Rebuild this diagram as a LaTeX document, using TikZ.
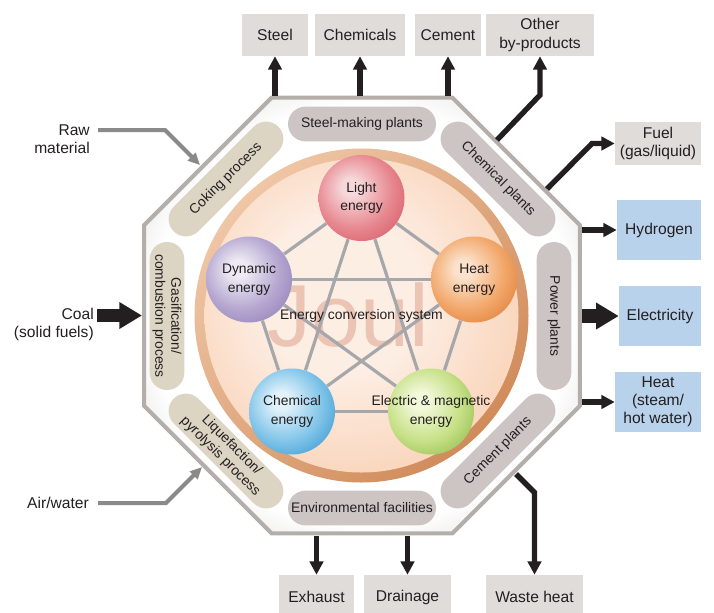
\documentclass[tikz,border=0pt]{standalone}
\usepackage{fontspec}
\setmainfont{Liberation Sans}
\usetikzlibrary{arrows.meta,shapes.geometric}

\definecolor{ink}{HTML}{231F20}
\definecolor{boxgray}{HTML}{E0DCD9}
\definecolor{boxblue}{HTML}{B9D2EC}
\definecolor{pillmauve}{HTML}{CDC5C3}
\definecolor{pillbeige}{HTML}{DCD5C4}
\definecolor{octline}{HTML}{B4AEAB}
\definecolor{octfill}{HTML}{E0DDDB}
\definecolor{linkgray}{HTML}{A5A7AA}
\definecolor{feedgray}{HTML}{8A8A8A}
\definecolor{joul}{HTML}{EBC4B4}
\definecolor{ringlight}{HTML}{EFC6A6}
\definecolor{ringdark}{HTML}{D08B5A}
\definecolor{corepale}{HTML}{FDEEE4}
\definecolor{coreedge}{HTML}{F7C6A2}
\definecolor{lightpale}{HTML}{F6D8DA}\definecolor{lightmain}{HTML}{E78890}\definecolor{lightedge}{HTML}{CD4656}
\definecolor{heatpale}{HTML}{FBE2CC}\definecolor{heatmain}{HTML}{F2A76A}\definecolor{heatedge}{HTML}{D46A22}
\definecolor{dynpale}{HTML}{EEEAF4}\definecolor{dynmain}{HTML}{B4A6D0}\definecolor{dynedge}{HTML}{826EAB}
\definecolor{chempale}{HTML}{E2F2FA}\definecolor{chemmain}{HTML}{80C4E9}\definecolor{chemedge}{HTML}{1A84C4}
\definecolor{emagpale}{HTML}{F2F8DA}\definecolor{emagmain}{HTML}{C6E086}\definecolor{emagedge}{HTML}{79AA32}

\newcommand\spherecol[4]{\pgfdeclareradialshading{#1}{\pgfpoint{-7bp}{7bp}}{color(0bp)=(#2); color(5bp)=(#2); color(22bp)=(#3); color(42bp)=(#4); color(60bp)=(#4)}}
\spherecol{lightsh}{lightpale}{lightmain}{lightedge}
\spherecol{heatsh}{heatpale}{heatmain}{heatedge}
\spherecol{dynsh}{dynpale}{dynmain}{dynedge}
\spherecol{chemsh}{chempale}{chemmain}{chemedge}
\spherecol{emagsh}{emagpale}{emagmain}{emagedge}
\pgfdeclareradialshading{coresh}{\pgfpoint{-4bp}{4bp}}{color(0bp)=(corepale); color(12bp)=(corepale); color(39bp)=(coreedge); color(60bp)=(coreedge)}
\pgfdeclareradialshading{octsh}{\pgfpointorigin}{color(0bp)=(white); color(24bp)=(white); color(32bp)=(octfill); color(60bp)=(octfill)}

\pgfdeclarelayer{bg}
\pgfdeclarelayer{links}
\pgfsetlayers{bg,links,main}

\begin{document}
\begin{tikzpicture}[x=0.75pt, y=-0.75pt, text=ink,
    outbox/.style={fill=boxgray, minimum height=31.5pt, inner sep=1pt, align=center,
      font=\fontsize{11.7}{13.6}\selectfont},
    bluebox/.style={outbox, fill=boxblue, minimum height=45pt},
    outlabel/.style={anchor=east, inner sep=0pt, align=right, font=\fontsize{11.7}{13.6}\selectfont},
    pill/.style={rounded corners=13pt, minimum width=111pt, minimum height=26pt, inner sep=1pt,
      align=center, font=\fontsize{10.4}{12}\selectfont},
    sphere/.style={circle, minimum size=64.5pt, inner sep=0pt, shading=#1, shade},
    elabel/.style={align=center, font=\fontsize{10.4}{14}\selectfont},
    link/.style={draw=linkgray, line width=2.4pt},
    blk/.style={draw=ink, line width=4pt, -{Triangle[length=10pt,width=10pt]}},
    fat/.style={draw=ink, line width=10pt, -{Triangle[length=17pt,width=19pt]}},
    feed/.style={draw=feedgray, line width=3pt, -{Triangle[length=9pt,width=8pt]}}
    ]
  \useasboundingbox (0,0) rectangle (714,612);

  \begin{pgfonlayer}{bg}
    \node[regular polygon, regular polygon sides=8, minimum size=353.9pt, inner sep=0pt,
      draw=octline, line width=3pt, shading=octsh, shade] (oct) at (362,315.5) {};
    \node[circle, minimum size=250.5pt, inner sep=0pt, top color=ringlight, bottom color=ringdark,
      shading angle=45] (ring) at (361.5,315.5) {};
    \node[circle, minimum size=235.5pt, inner sep=0pt, shading=coresh, shade] (core) at (361.5,315.5) {};
    \node[anchor=base, text=joul, font=\fontsize{66}{66}\selectfont] (joultxt) at (348,346) {Joul};
  \end{pgfonlayer}

  \node[pill, fill=pillmauve] (steelplant) at (362,124) {Steel-making plants};
  \node[pill, fill=pillmauve, rotate=-45] (chemplant) at (498,179) {Chemical plants};
  \node[pill, fill=pillmauve, rotate=-90] (powerplant) at (554,316) {Power plants};
  \node[pill, fill=pillmauve, rotate=45] (cementplant) at (498,451) {Cement plants};
  \node[pill, fill=pillmauve] (envfac) at (362,508) {Environmental facilities};
  \node[pill, fill=pillbeige, rotate=-45] (liquef) at (226,451) {Liquefaction/\\pyrolysis process};
  \node[pill, fill=pillbeige, rotate=-90] (gasif) at (167,316) {Gasification/\\combustion process};
  \node[pill, fill=pillbeige, rotate=45] (coking) at (226,179) {Coking process};

  \node[sphere=lightsh, label={[elabel]center:Light\\energy}] (light) at (361.5,198) {};
  \node[sphere=heatsh, label={[elabel]center:Heat\\energy}] (heat) at (474,279.5) {};
  \node[sphere=dynsh, label={[elabel]center:Dynamic\\energy}] (dyn) at (249,279.5) {};
  \node[sphere=chemsh, label={[elabel]center:Chemical\\energy}] (chem) at (292,411.5) {};
  \node[sphere=emagsh, label={[elabel]center:Electric \& magnetic\\energy}] (emag) at (431,411.5) {};
  \node[elabel] (ecs) at (361.5,316) {Energy conversion system};

  \begin{pgfonlayer}{links}
    \foreach \a/\b in {light/heat, heat/emag, emag/chem, chem/dyn, dyn/light,
                       light/emag, light/chem, heat/chem, heat/dyn, dyn/emag}
      \draw[link] (\a) -- (\b);
  \end{pgfonlayer}

  \node[outbox, minimum width=49.5pt] (steel) at (275,35) {Steel};
  \node[outbox, minimum width=67.5pt] (chemicals) at (360,35) {Chemicals};
  \node[outbox, minimum width=49.5pt] (cement) at (448,35) {Cement};
  \node[outbox, minimum width=81pt] (other) at (540,35) {Other\\by-products};
  \node[outbox, minimum width=64.5pt, minimum height=32pt] (fuel) at (658,143.5) {Fuel\\(gas/liquid)};
  \node[bluebox, minimum width=63pt] (hydrogen) at (659,230) {Hydrogen};
  \node[bluebox, minimum width=61.5pt] (electricity) at (660,316) {Electricity};
  \node[bluebox, minimum width=64.5pt] (heatout) at (658,402) {Heat\\(steam/\\hot water)};
  \node[outbox, minimum width=56pt, minimum height=33pt] (exhaust) at (316.5,597) {Exhaust};
  \node[outbox, minimum width=65pt, minimum height=33pt] (drainage) at (407.5,597) {Drainage};
  \node[outbox, minimum width=73pt, minimum height=33pt] (wasteheat) at (534.5,597) {Waste heat};

  \node[outlabel] (raw) at (90,139.5) {Raw\\material};
  \node[outlabel] (coal) at (94,324.5) {Coal\\(solid fuels)};
  \node[outlabel] (air) at (89,503) {Air/water};

  \draw[blk] (steel.south |- oct.north) -- (steel);
  \draw[blk] (chemicals.south |- oct.north) -- (chemicals);
  \draw[blk] (cement.south |- oct.north) -- (cement);
  \coordinate (othstart) at (497,140);
  \coordinate (othbend) at (540,95);
  \draw[blk] (othstart) -- (othbend) -- (other);
  \coordinate (fuelstart) at (547,189);
  \coordinate (fuelbend) at (592,143.5);
  \draw[blk] (fuelstart) -- (fuelbend) -- (fuel);
  \draw[blk] (oct.east |- hydrogen) -- (hydrogen);
  \draw[fat] (oct.east |- electricity) -- (electricity);
  \draw[blk] (oct.east |- heatout) -- (heatout);
  \draw[blk] (exhaust.north |- oct.south) -- (exhaust);
  \draw[blk] (drainage.north |- oct.south) -- (drainage);
  \coordinate (wastestart) at (516,474);
  \coordinate (wastebend) at (534.5,492.5);
  \draw[blk] (wastestart) -- (wastebend) -- (wasteheat);

  \coordinate (rawstart) at (98,130);
  \coordinate (rawbend) at (165,130);
  \coordinate (rawend) at (200,165);
  \draw[feed] (rawstart) -- (rawbend) -- (rawend);
  \coordinate (coalstart) at (97,315.5);
  \draw[fat] (coalstart) -- (oct.west);
  \coordinate (airstart) at (98,503);
  \coordinate (airbend) at (166,503);
  \coordinate (airend) at (202,467);
  \draw[feed] (airstart) -- (airbend) -- (airend);
\end{tikzpicture}
\end{document}
